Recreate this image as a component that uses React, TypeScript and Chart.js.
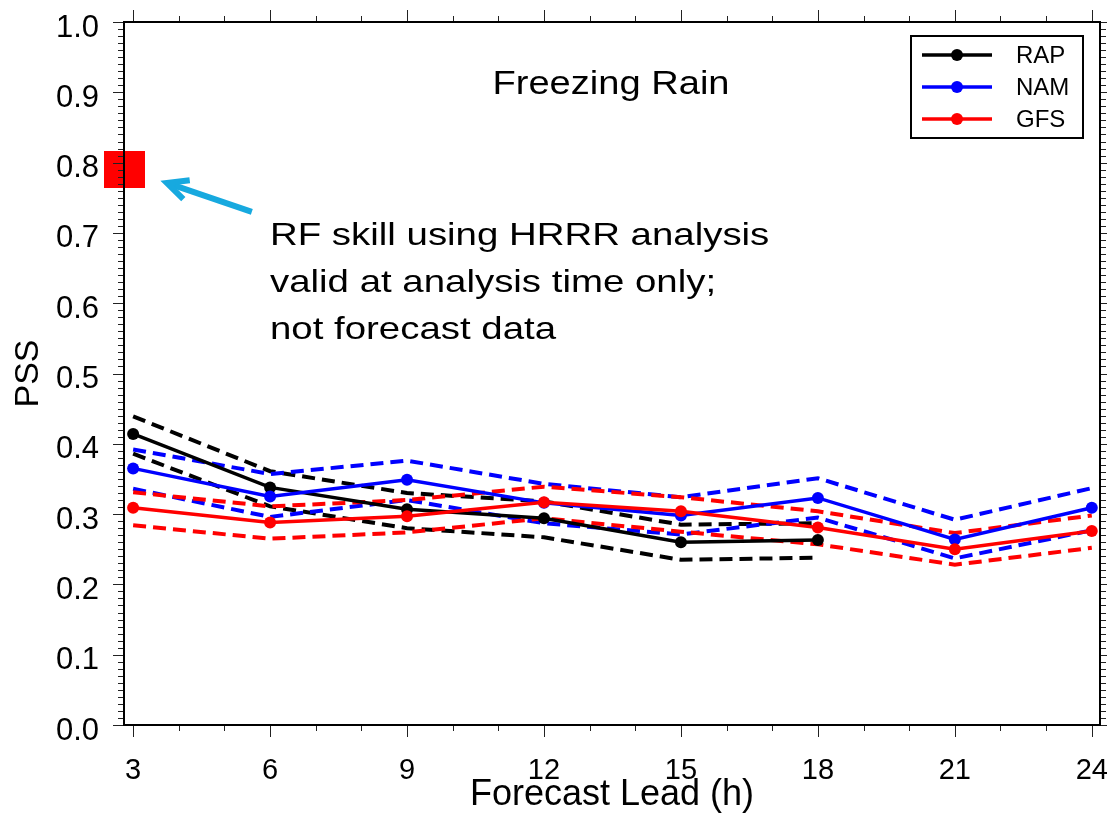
import React, { useEffect, useRef } from 'react';
import { Chart, registerables } from 'chart.js';

Chart.register(...registerables);

const FONT = "'Liberation Sans', Arial, Helvetica, sans-serif";

// ---- data ----
const leadHours = [3, 6, 9, 12, 15, 18, 21, 24];
const xTickLabels = ['3', '6', '9', '12', '15', '18', '21', '24'];
const yTickValues = [0, 0.1, 0.2, 0.3, 0.4, 0.5, 0.6, 0.7, 0.8, 0.9, 1.0];

const rapPSS = [0.414, 0.338, 0.307, 0.294, 0.26, 0.263, null, null];
const rapUpper = [0.439, 0.361, 0.33, 0.318, 0.285, 0.287, null, null];
const rapLower = [0.386, 0.311, 0.28, 0.267, 0.235, 0.238, null, null];

const namPSS = [0.365, 0.325, 0.349, 0.316, 0.298, 0.323, 0.264, 0.309];
const namUpper = [0.392, 0.357, 0.376, 0.343, 0.324, 0.351, 0.292, 0.337];
const namLower = [0.336, 0.296, 0.32, 0.287, 0.271, 0.295, 0.237, 0.277];

const gfsPSS = [0.309, 0.288, 0.297, 0.317, 0.304, 0.281, 0.25, 0.276];
const gfsUpper = [0.331, 0.311, 0.32, 0.339, 0.324, 0.304, 0.273, 0.298];
const gfsLower = [0.284, 0.265, 0.274, 0.294, 0.275, 0.257, 0.228, 0.252];

const rfSkill = 0.79; // RF skill using HRRR analysis (analysis time)

const seriesNames = ['RAP', 'NAM', 'GFS'];
const seriesColors = ['#000000', '#0000ff', '#ff0000'];

const titleText = 'Freezing Rain';
const noteLines = ['RF skill using HRRR analysis', 'valid at analysis time only;', 'not forecast data'];
const xAxisTitle = 'Forecast Lead (h)';
const yAxisTitle = 'PSS';

const xMin = 2.8;
const xMax = 24.18;
const yMin = 0;
const yMax = 1;

const arrowTail = { x: 5.6, y: 0.73 };
const arrowHead = { x: 3.74, y: 0.771 };
const arrowColor = '#17a9df';

function pts(vals: (number | null)[]) {
  return leadHours.map((h, i) => ({ x: h, y: vals[i] }));
}

function drawScaledText(ctx: CanvasRenderingContext2D, text: string, x: number, y: number, font: string, sx: number, align: CanvasTextAlign) {
  ctx.save();
  ctx.translate(x, y);
  ctx.scale(sx, 1);
  ctx.font = font;
  ctx.textAlign = align;
  ctx.textBaseline = 'alphabetic';
  ctx.fillStyle = '#000';
  ctx.fillText(text, 0, 0);
  ctx.restore();
}

const framePlugin = {
  id: 'frameTicks',
  afterDraw(chart: any) {
    const { ctx, chartArea: a, scales } = chart;
    const x = scales.x;
    const y = scales.y;
    ctx.save();
    ctx.strokeStyle = '#222';
    ctx.lineWidth = 1;
    ctx.beginPath();
    for (let h = Math.ceil(xMin); h <= xMax; h++) {
      const px = Math.round(x.getPixelForValue(h)) + 0.5;
      const len = h % 3 === 0 ? 12 : 6;
      ctx.moveTo(px, a.bottom);
      ctx.lineTo(px, a.bottom + len);
      ctx.moveTo(px, a.top);
      ctx.lineTo(px, a.top - len);
    }
    for (let k = 0; k <= 100; k++) {
      const py = Math.round(y.getPixelForValue(k / 100)) + 0.5;
      const len = k % 10 === 0 ? 11 : 6;
      ctx.moveTo(a.left, py);
      ctx.lineTo(a.left - len, py);
      ctx.moveTo(a.right, py);
      ctx.lineTo(a.right + len, py);
    }
    ctx.stroke();
    ctx.strokeStyle = '#000';
    ctx.lineWidth = 2;
    ctx.strokeRect(a.left, a.top, a.right - a.left, a.bottom - a.top);
    ctx.restore();
  },
};

const notesPlugin = {
  id: 'notes',
  afterDraw(chart: any) {
    const { ctx, chartArea: a, scales } = chart;
    const x = scales.x;
    const y = scales.y;
    drawScaledText(ctx, titleText, a.left + 487, a.top + 72, `34px ${FONT}`, 1.12, 'center');
    noteLines.forEach((t, i) => {
      drawScaledText(ctx, t, a.left + 146, a.top + 223 + i * 47, `32px ${FONT}`, 1.2, 'left');
    });
    // arrow
    const tx = x.getPixelForValue(arrowTail.x);
    const ty = y.getPixelForValue(arrowTail.y);
    const hx = x.getPixelForValue(arrowHead.x);
    const hy = y.getPixelForValue(arrowHead.y);
    const ang = Math.atan2(ty - hy, tx - hx);
    ctx.save();
    ctx.strokeStyle = arrowColor;
    ctx.lineWidth = 6;
    ctx.lineCap = 'butt';
    ctx.beginPath();
    ctx.moveTo(tx, ty);
    ctx.lineTo(hx + 3 * Math.cos(ang), hy + 3 * Math.sin(ang));
    ctx.stroke();
    ctx.lineJoin = 'miter';
    ctx.beginPath();
    ctx.moveTo(hx + 23 * Math.cos(ang - 0.45), hy + 23 * Math.sin(ang - 0.45));
    ctx.lineTo(hx, hy);
    ctx.lineTo(hx + 23 * Math.cos(ang + 0.45), hy + 23 * Math.sin(ang + 0.45));
    ctx.stroke();
    ctx.restore();
    // legend
    ctx.save();
    const bx = a.right - 189;
    const by = a.top + 14;
    ctx.strokeStyle = '#000';
    ctx.lineWidth = 2;
    ctx.strokeRect(bx, by, 172, 102);
    seriesNames.forEach((name, i) => {
      const ry = by + 19 + i * 32;
      ctx.strokeStyle = seriesColors[i];
      ctx.fillStyle = seriesColors[i];
      ctx.lineWidth = 3.5;
      ctx.beginPath();
      ctx.moveTo(bx + 11, ry);
      ctx.lineTo(bx + 81, ry);
      ctx.stroke();
      ctx.beginPath();
      ctx.arc(bx + 46, ry, 6, 0, Math.PI * 2);
      ctx.fill();
      ctx.fillStyle = '#000';
      ctx.font = `24px ${FONT}`;
      ctx.textAlign = 'left';
      ctx.textBaseline = 'middle';
      ctx.fillText(name, bx + 105, ry + 1);
    });
    ctx.restore();
  },
};

const ZERO_PAD = { left: 0, top: 0, right: 0, bottom: 0 };
function zeroPadding(s: any) {
  s.paddingTop = 0;
  s.paddingBottom = 0;
  s.paddingLeft = 0;
  s.paddingRight = 0;
  s.getPadding = () => ZERO_PAD;
}

export default function App() {
  const canvasRef = useRef<HTMLCanvasElement | null>(null);

  useEffect(() => {
    const canvas = canvasRef.current;
    if (!canvas) return;
    const sq = document.createElement('canvas');
    sq.width = 41;
    sq.height = 37;
    const sctx = sq.getContext('2d');
    if (sctx) {
      sctx.fillStyle = '#ff0000';
      sctx.fillRect(0, 0, 41, 37);
    }

    const solid = (i: number, vals: (number | null)[]) => ({
      label: seriesNames[i],
      data: pts(vals),
      borderColor: seriesColors[i],
      backgroundColor: seriesColors[i],
      borderWidth: 3.5,
      pointRadius: 6,
      pointHoverRadius: 6,
      pointBorderWidth: 0,
      showLine: true,
      spanGaps: false,
    });
    const dashed = (i: number, vals: (number | null)[], tag: string) => ({
      label: seriesNames[i] + ' ' + tag,
      data: pts(vals),
      borderColor: seriesColors[i],
      backgroundColor: seriesColors[i],
      borderWidth: 4,
      borderDash: [13, 7],
      pointRadius: 0,
      showLine: true,
      spanGaps: false,
    });

    const chart = new Chart(canvas, {
      type: 'line',
      data: {
        datasets: [
          {
            label: 'RF',
            data: [{ x: xMin, y: rfSkill }],
            pointStyle: sq as any,
            pointRadius: 1,
            pointBorderWidth: 0,
            borderWidth: 0,
            showLine: false,
            clip: false as any,
            borderColor: '#ff0000',
            backgroundColor: '#ff0000',
          } as any,
          solid(2, gfsPSS),
          solid(1, namPSS),
          solid(0, rapPSS),
          dashed(2, gfsUpper, 'upper'),
          dashed(2, gfsLower, 'lower'),
          dashed(1, namUpper, 'upper'),
          dashed(1, namLower, 'lower'),
          dashed(0, rapUpper, 'upper'),
          dashed(0, rapLower, 'lower'),
        ],
      },
      options: {
        animation: false,
        responsive: false,
        maintainAspectRatio: false,
        layout: { padding: { top: 22, right: 7, left: 0, bottom: 0 } },
        plugins: {
          legend: { display: false },
          tooltip: { enabled: false },
          title: { display: false },
        },
        scales: {
          x: {
            type: 'linear',
            min: xMin,
            max: xMax,
            grid: { display: false, drawTicks: false },
            border: { display: false },
            afterBuildTicks: (s: any) => {
              s.ticks = leadHours.map((v) => ({ value: v }));
            },
            afterFit: (s: any) => {
              s.height = 108;
              zeroPadding(s);
            },
            ticks: {
              autoSkip: false,
              maxRotation: 0,
              padding: 29,
              color: '#000',
              font: { family: FONT, size: 29 },
              callback: (v: any) => {
                const idx = leadHours.indexOf(Number(v));
                return idx >= 0 ? xTickLabels[idx] : '';
              },
            },
            title: {
              display: true,
              text: xAxisTitle,
              color: '#000',
              font: { family: FONT, size: 36 },
              padding: { top: 0, bottom: 16 },
            },
          },
          y: {
            type: 'linear',
            min: yMin,
            max: yMax,
            grid: { display: false, drawTicks: false },
            border: { display: false },
            afterBuildTicks: (s: any) => {
              s.ticks = yTickValues.map((v) => ({ value: v }));
            },
            afterFit: (s: any) => {
              s.width = 124;
              zeroPadding(s);
            },
            ticks: {
              padding: 25,
              labelOffset: 6,
              color: '#000',
              font: { family: FONT, size: 31 },
              callback: (v: any) => Number(v).toFixed(1),
            },
            title: {
              display: true,
              text: yAxisTitle,
              color: '#000',
              font: { family: FONT, size: 34 },
              padding: { top: 8, bottom: 0 },
            },
          },
        },
      },
      plugins: [framePlugin, notesPlugin],
    });
    return () => chart.destroy();
  }, []);

  return (
    <div style={{ position: 'absolute', left: 0, top: 0, width: 1107, height: 833, background: '#fff' }}>
      <canvas ref={canvasRef} width={1107} height={833} style={{ display: 'block' }} />
    </div>
  );
}
